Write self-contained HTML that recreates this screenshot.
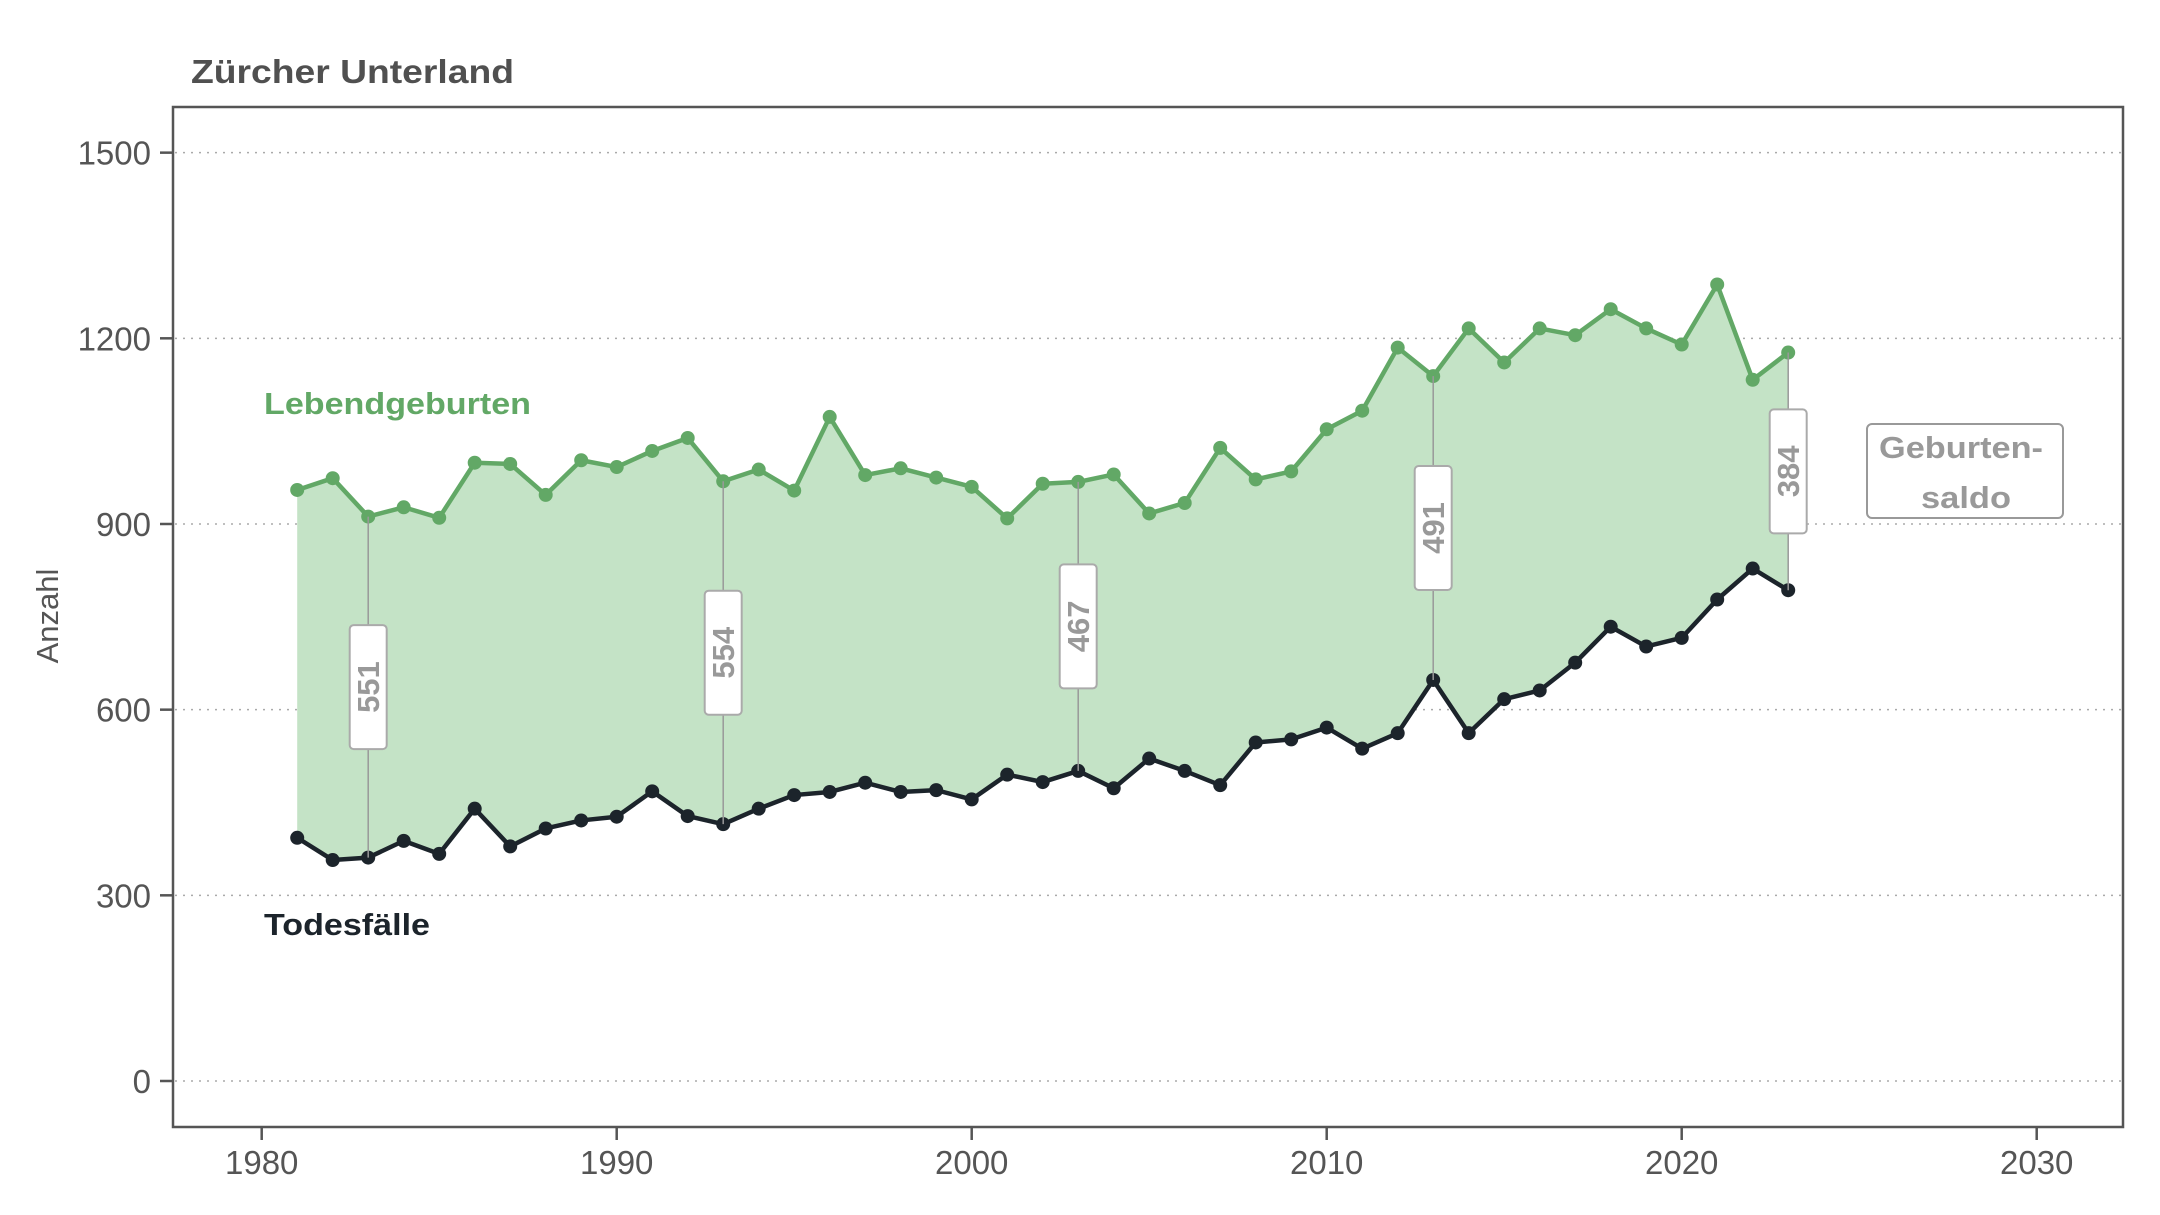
<!DOCTYPE html>
<html><head><meta charset="utf-8">
<style>
html,body{margin:0;padding:0;background:#fff;}
svg{display:block;font-family:"Liberation Sans",Arial,sans-serif;}
</style></head>
<body>
<svg id="chart" width="2160" height="1215" viewBox="0 0 2160 1215">
<text x="191" y="83" font-size="33" font-weight="bold" fill="#505050" textLength="323" lengthAdjust="spacingAndGlyphs">Zürcher Unterland</text>
<text transform="translate(58,616) rotate(-90)" text-anchor="middle" font-size="31" fill="#555">Anzahl</text>
<g id="grid"></g>
<g id="area"></g>
<g id="series"></g>
<g id="labels"></g>
<rect x="173" y="107" width="1950" height="1020" fill="none" stroke="#555" stroke-width="2.5"/>
<g id="axes"></g>
<text x="264" y="414" font-size="31" font-weight="bold" fill="#62a866" textLength="267" lengthAdjust="spacingAndGlyphs">Lebendgeburten</text>
<text x="264" y="935" font-size="31" font-weight="bold" fill="#1c242b" textLength="166" lengthAdjust="spacingAndGlyphs">Todesfälle</text>
<g>
<rect x="1867" y="424" width="196" height="94" rx="5" fill="#fff" stroke="#999" stroke-width="2"/>
<text x="1879" y="458" font-size="31" font-weight="bold" fill="#999" textLength="164" lengthAdjust="spacingAndGlyphs">Geburten-</text>
<text x="1966" y="508" text-anchor="middle" font-size="31" font-weight="bold" fill="#999" textLength="90" lengthAdjust="spacingAndGlyphs">saldo</text>
</g>
</svg>
<script>
const years = [1981,1982,1983,1984,1985,1986,1987,1988,1989,1990,1991,1992,1993,1994,1995,1996,1997,1998,1999,2000,2001,2002,2003,2004,2005,2006,2007,2008,2009,2010,2011,2012,2013,2014,2015,2016,2017,2018,2019,2020,2021,2022,2023];
const births = [955,974,912,927,910,999,997,947,1003,992,1018,1039,969,988,954,1073,979,990,975,960,909,965,968,980,917,934,1023,972,985,1053,1083,1185,1139,1216,1161,1216,1205,1247,1216,1190,1287,1133,1177];
const deaths = [393,357,361,388,367,440,379,408,421,427,468,428,415,440,462,467,482,467,470,455,495,483,501,473,521,501,478,547,552,571,537,562,648,562,617,631,676,734,702,716,778,828,793];
const labelYears = [1983,1993,2003,2013,2023];
const yTicks = [0,300,600,900,1200,1500];
const xTicks = [1980,1990,2000,2010,2020,2030];

const NS='http://www.w3.org/2000/svg';
const X = v => 261.7 + (v-1980)*35.5;
const Y = v => 1081 - v*0.6189;
function mk(tag, attrs, parent){const e=document.createElementNS(NS,tag);for(const k in attrs)e.setAttribute(k,attrs[k]);parent.appendChild(e);return e;}
const grid=document.getElementById('grid'), area=document.getElementById('area'), series=document.getElementById('series'), labels=document.getElementById('labels'), axes=document.getElementById('axes');

yTicks.forEach(t=>{
  const l=mk('line',{x1:175,x2:2121,y1:Y(t),y2:Y(t),stroke:'#aaa','stroke-width':1.5,'stroke-dasharray':'2 6'},grid);
  
  
  const tk=mk('line',{x1:160,x2:173,y1:Y(t),y2:Y(t),stroke:'#555','stroke-width':2.5},axes);
  
  
  const tx=mk('text',{x:151,y:Y(t)+12,'text-anchor':'end','font-size':33,fill:'#555'},axes);
  tx.textContent=t;
  
  
});
xTicks.forEach(t=>{
  const tk=mk('line',{x1:X(t),x2:X(t),y1:1127,y2:1140,stroke:'#555','stroke-width':2.5},axes);
  
  
  const tx=mk('text',{x:X(t),y:1174,'text-anchor':'middle','font-size':33,fill:'#555'},axes);
  tx.textContent=t;
  
  
});

let d='';
years.forEach((y,i)=>{d+=(i?'L':'M')+X(y)+','+Y(births[i]);});
for(let i=years.length-1;i>=0;i--){d+='L'+X(years[i])+','+Y(deaths[i]);}
const poly=mk('path',{d:d+'Z',fill:'#c4e3c6'},area);



labelYears.forEach(ly=>{
  const i=years.indexOf(ly);
  const b=births[i], de=deaths[i], mid=Y((b+de)/2);
  const l=mk('line',{x1:X(ly),x2:X(ly),y1:Y(b),y2:Y(de),stroke:'#999','stroke-width':1.5},labels);
  
  
  const r=mk('rect',{x:X(ly)-18.5,y:mid-62,width:37,height:124,rx:4,fill:'#fff',stroke:'#aaa','stroke-width':2},labels);
  
  
  const t=mk('text',{transform:`translate(${X(ly)+11},${mid}) rotate(-90)`,'text-anchor':'middle','font-size':31,'font-weight':'bold',fill:'#999'},labels);
  t.textContent=b-de;
  
  
});

function drawSeries(vals,color,name){
  const pts=years.map((y,i)=>X(y)+','+Y(vals[i])).join(' ');
  const pl=mk('polyline',{points:pts,fill:'none',stroke:color,'stroke-width':4.5,'stroke-linejoin':'round'},series);
  
  
  years.forEach((y,i)=>{
    const c=mk('circle',{cx:X(y),cy:Y(vals[i]),r:7,fill:color},series);
    
    
  });
}
drawSeries(births,'#62a866','births');
drawSeries(deaths,'#1c242b','deaths');
</script>
</body></html>
